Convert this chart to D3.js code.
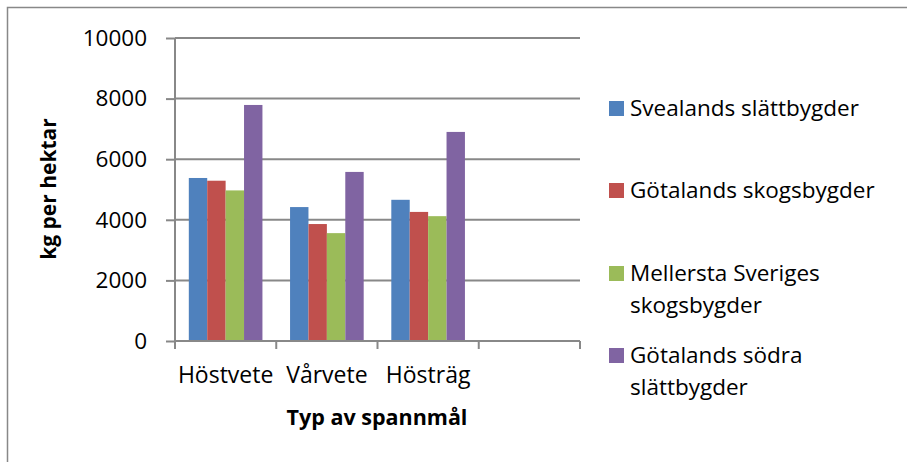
<!DOCTYPE html>
<html>
<head>
<meta charset="utf-8">
<script src="https://cdn.jsdelivr.net/npm/d3@7"></script>
<style>
  body { margin: 0; background: #fff; }
  svg { display: block; font-family: "Open Sans", sans-serif; }
  .grid line { stroke: #888; stroke-width: 2; }
  .axis path, .axis line { stroke: #888; stroke-width: 2; }
</style>
</head>
<body>
<svg id="chart" width="907" height="462"></svg>
<script>
"use strict"

// categories (the last one is empty in the source chart)
const categories = ["Höstvete", "Vårvete", "Hösträg", ""]

const seriesNames = [
    ["Svealands slättbygder"],
    ["Götalands skogsbygder"],
    ["Mellersta Sveriges", "skogsbygder"],
    ["Götalands södra", "slättbygder"]
]
const seriesColors = ["#4f81bd", "#c0504d", "#9bbb59", "#8064a2"]

const svealand   = [5380, 4420, 4660, null]
const gotaSkog   = [5290, 3860, 4260, null]
const mellersta  = [4970, 3560, 4120, null]
const gotaSodra  = [7790, 5580, 6900, null]
const series = [svealand, gotaSkog, mellersta, gotaSodra]

const yTicks = [0, 2000, 4000, 6000, 8000, 10000]

const svg = d3.select("#chart")

// chart frame (only left and top edges are visible)
svg.append("path")
   .attr("d", "M7.5,462 V7.5 H907")
   .attr("fill", "none").attr("stroke", "#888").attr("stroke-width", 1.5)

const x = d3.scaleBand().domain(categories).range([175, 580]).padding(0)
const xInner = d3.scaleBand().domain(d3.range(series.length))
                 .range([0, x.bandwidth()]).paddingInner(0).paddingOuter(0.75)
const y = d3.scaleLinear().domain([0, 10000]).range([341, 38])

// gridlines
svg.append("g").attr("class", "grid")
   .selectAll("line").data(yTicks.filter(t => t > 0)).join("line")
   .attr("x1", 175).attr("x2", 580)
   .attr("y1", d => y(d)).attr("y2", d => y(d))

// bars
series.forEach((vals, i) => {
    svg.append("g").attr("fill", seriesColors[i])
       .selectAll("rect").data(categories.map((c, j) => ({c, v: vals[j]})).filter(d => d.v != null))
       .join("rect")
       .attr("x", d => x(d.c) + xInner(i))
       .attr("width", xInner.bandwidth())
       .attr("y", d => y(d.v))
       .attr("height", d => y(0) - y(d.v))
})

// y axis
const yAxis = svg.append("g").attr("class", "axis").attr("transform", "translate(175,0)")
   .call(d3.axisLeft(y).tickValues(yTicks).tickSize(9).tickPadding(19).tickFormat(d3.format("d")))
yAxis.select(".domain").attr("d", "M0,38 V341")
yAxis.selectAll("text").attr("font-size", 22.5).attr("fill", "#000")
     .attr("font-family", "'Open Sans', sans-serif")

// x axis
const xAxis = svg.append("g").attr("class", "axis").attr("transform", "translate(0,341)")
   .call(d3.axisBottom(x).tickSize(0).tickPadding(26))
xAxis.select(".domain").attr("d", "M175,0 H580")
xAxis.selectAll(".tick text").attr("font-size", 23).attr("fill", "#000")
     .attr("font-family", "'Open Sans', sans-serif")
// tick marks at band boundaries
xAxis.selectAll(".sep").data(categories.map(c => x(c)).concat([580])).join("line")
     .attr("class", "sep")
     .attr("x1", d => d).attr("x2", d => d).attr("y1", 0).attr("y2", 8)

// axis titles
svg.append("text")
   .attr("x", 377).attr("y", 425)
   .attr("text-anchor", "middle").attr("font-weight", "bold").attr("font-size", 21.5)
   .text("Typ av spannmål")

svg.append("text")
   .attr("transform", "translate(56,189) rotate(-90)")
   .attr("text-anchor", "middle").attr("font-weight", "bold").attr("font-size", 21)
   .text("kg per hektar")

// legend
const legendY = [108, 190, 273, 355]
const legend = svg.append("g")
seriesNames.forEach((lines, i) => {
    const g = legend.append("g").attr("transform", `translate(609,${legendY[i]})`)
    g.append("rect").attr("x", 0).attr("y", -7).attr("width", 15).attr("height", 15)
     .attr("fill", seriesColors[i])
    g.append("text").attr("x", 21).attr("y", 8).attr("font-size", 22.5).attr("fill", "#000")
     .selectAll("tspan").data(lines).join("tspan")
     .attr("x", 21).attr("dy", (d, k) => k == 0 ? 0 : 31.7)
     .text(d => d)
})
</script>
</body>
</html>
